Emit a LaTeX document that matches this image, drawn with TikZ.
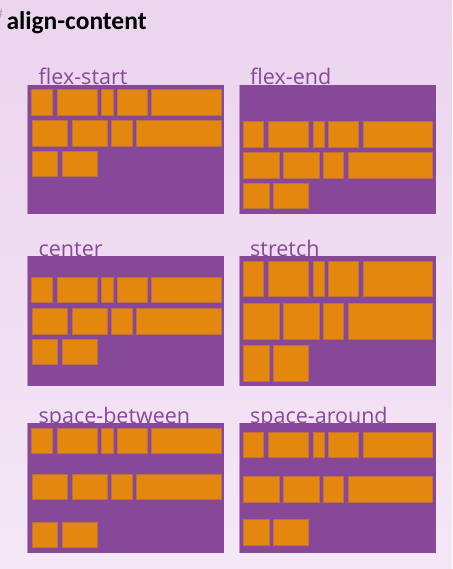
\documentclass[tikz,border=0pt]{standalone}
\usepackage{fontspec}
\setmainfont{Open Sans}
\newfontfamily\titlefont{Carlito}
\definecolor{bgtop}{HTML}{ECD4EE}
\definecolor{bgbot}{HTML}{F4E7F6}
\definecolor{boxc}{HTML}{87489A}
\definecolor{itemc}{HTML}{E3870F}
\definecolor{itemb}{HTML}{BE7041}
\tikzset{
  lbl/.style={inner sep=0pt, text=boxc, font=\fontsize{21.5}{24}\selectfont, anchor=base west},
  flexbg/.style={fill=boxc},
  flexitem/.style={fill=itemc, draw=itemb, line width=0.8pt},
}
\newcommand\flexpanel[9]{%
  \node[lbl] (#5) at ({#1+11.5},{#2+0.3}) {#4};
  \fill[flexbg] (#1,#2) rectangle ({#1+197},#3);
  \draw[boxc!60!white, line width=0.8pt] ({#1+0.4},#2) -- ({#1+0.4},#3);
  \foreach \a/\b in {4.7/25.3, 30.3/70, 74.7/86, 90.3/120, 124.5/194.2}{
    \draw[flexitem] ({#1+\a},{#6}) rectangle ({#1+\b},{#6+#9});
  }
  \foreach \a/\b in {5/40.7, 45/80.5, 84.7/105, 109.7/194.2}{
    \draw[flexitem] ({#1+\a},{#7}) rectangle ({#1+\b},{#7+#9});
  }
  \foreach \a/\b in {5/30.5, 35/70.3}{
    \draw[flexitem] ({#1+\a},{#8}) rectangle ({#1+\b},{#8+#9});
  }
}
\begin{document}
\begin{tikzpicture}[x=1pt,y=-1pt]
\shade[top color=bgtop, bottom color=bgbot] (0,0) rectangle (452,569);
\useasboundingbox (0,0) rectangle (452,569);
\node[inner sep=0pt, anchor=base east, text=black!35, font=\titlefont\fontsize{14}{16}\selectfont] (hash) at (3.2,19) {\#};
\node[inner sep=0pt, anchor=base west, font=\titlefont\bfseries\fontsize{25.5}{28}\selectfont] (title) at (6.3,30) {align-content};
\flexpanel{27}{84.7}{214.3}{flex-start}{fs}{89.5}{120.5}{151.2}{25.6}
\flexpanel{238.5}{84.7}{214.3}{flex-end}{fe}{121.8}{152.8}{183.2}{25.6}
\flexpanel{27}{256}{385.6}{center}{ce}{277.1}{308.3}{339}{25.6}
\flexpanel{238.5}{256}{385.6}{stretch}{st}{261}{303.8}{345.5}{35.4}
\flexpanel{27}{423}{552.7}{space-between}{sb}{428}{474.1}{522.2}{25.6}
\flexpanel{238.5}{423}{552.7}{space-around}{sa}{432}{476.3}{519.5}{25.6}
\end{tikzpicture}
\end{document}
